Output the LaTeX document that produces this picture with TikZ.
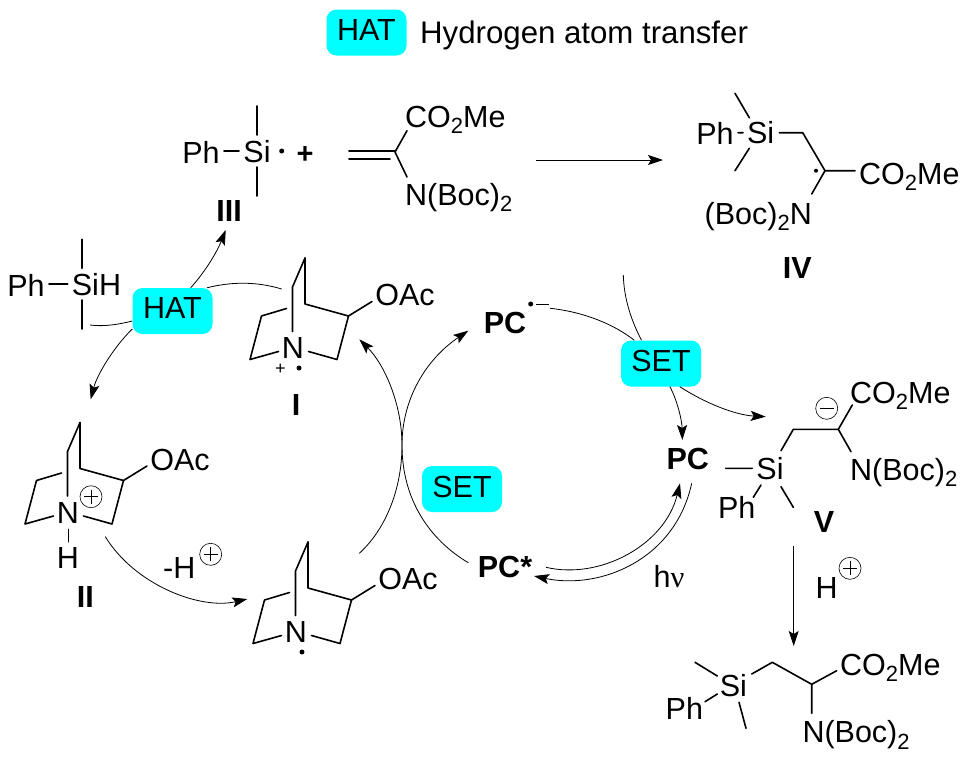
\documentclass[tikz,border=0pt]{standalone}
\usepackage{fontspec}
\setmainfont{Liberation Sans}
\newfontfamily\nufont{Liberation Serif}
\usetikzlibrary{arrows.meta}
\definecolor{tagcyan}{RGB}{0,255,255}
\newcommand\lowtwo{\raisebox{-0.22em}{\fontsize{22}{22}\selectfont 2}}
\newcommand\tagtext[1]{\raisebox{5pt}{#1}}
\tikzset{
  x=1pt,y=-1pt,
  bond/.style={line width=1.6pt,line cap=round,line join=round,black},
  arc/.style={line width=0.8pt,black},
  arr/.style={arc,-{Stealth[length=15pt,width=10pt,inset=3pt]}},
  txt/.style={inner sep=0pt,font=\fontsize{30.5}{30.5}\selectfont},
  boldtxt/.style={txt,font=\fontsize{30.5}{30.5}\selectfont\bfseries},
  tag/.style={txt,fill=tagcyan,rounded corners=10pt,minimum width=80pt,minimum height=46pt},
  dot/.style={circle,fill=black,inner sep=0pt,minimum size=5pt},
  chgplus/.style={circle,draw,line width=0.6pt,inner sep=0pt,minimum size=22pt,
    path picture={\draw[line width=0.6pt] ([xshift=-7pt]path picture bounding box.center) -- ([xshift=7pt]path picture bounding box.center)
      ([yshift=-7pt]path picture bounding box.center) -- ([yshift=7pt]path picture bounding box.center);}},
  chgminus/.style={circle,draw,line width=0.6pt,inner sep=0pt,minimum size=22pt,
    path picture={\draw[line width=0.6pt] ([xshift=-7pt]path picture bounding box.center) -- ([xshift=7pt]path picture bounding box.center);}},
  quin/.pic={
    \node[txt] (-N) at (0,0) {N};
    \node[txt] (-OAc) at (112,-53) {OAc};
    \path (12,-90) coordinate (-top) (-0.5,-61) coordinate (-up) (-0.5,-16.5) coordinate (-Nt)
      (12,-44) coordinate (-bh) (55.5,-32) coordinate (-cr) (79,-46.5) coordinate (-oa)
      (44,11.5) coordinate (-dr) (15.5,3.5) coordinate (-Nr)
      (-6.5,-39.5) coordinate (-gap) (-31.5,-32) coordinate (-cl)
      (-43,11.5) coordinate (-dl) (-14.5,3.5) coordinate (-Nl);
    \draw[bond] (-top) -- (-up) -- (-Nt);
    \draw[bond] (-top) -- (-bh) -- (-cr) -- (-dr) -- (-Nr);
    \draw[bond] (-cr) -- (-oa);
    \draw[bond] (-gap) -- (-cl) -- (-dl) -- (-Nl);
  }
}
\begin{document}
\begin{tikzpicture}
\useasboundingbox (0,0) rectangle (971,758);
% legend
\node[tag] (HATkey) at (366.5,32.5) {\tagtext{HAT}};
\node[txt,anchor=base west,font=\fontsize{31.2}{31.2}\selectfont] (HATtxt) at (420,43.5) {Hydrogen atom transfer};
% quinuclidines
\pic (QI) at (293,348) {quin};
\pic (QII) at (68,512.5) {quin};
\pic (QIII) at (296,632) {quin};
\node[txt,font=\fontsize{18}{18}\selectfont] (Iplus) at (280.5,369.5) {+};
\node[dot] (Idot) at (299,368) {};
\node[dot] (IIIdot) at (302,652) {};
\node[boldtxt] (lI) at (296,405) {I};
\node[txt] (IIH) at (68,557.5) {H};
\path (68.3,529.3) coordinate (IIa) (68.3,541.7) coordinate (IIb);
\draw[bond] (IIa) -- (IIb);
\node[chgplus] (IIc) at (91,496.7) {};
\node[boldtxt] (lII) at (85.3,596.7) {II};
\node[txt] (mH) at (179.3,567.7) {-H};
\node[chgplus] (mHc) at (210.7,554.3) {};
% PhMe2SiH
\node[txt] (aPh) at (26,285) {Ph};
\node[txt,anchor=west] (aSi) at (71.7,285) {SiH};
\path (49,284) coordinate (a1) (67.7,284) coordinate (a2) (82,239.3) coordinate (a3) (82,268.3) coordinate (a4) (82,300) coordinate (a5) (82,329) coordinate (a6);
\draw[bond] (a1) -- (a2) (a3) -- (a4) (a5) -- (a6);
% radical III
\node[txt] (bPh) at (201,152) {Ph};
\node[txt] (bSi) at (257,152) {Si};
\node[dot] (bdot) at (281.7,151) {};
\node[txt,font=\fontsize{29}{29}\selectfont\bfseries] (bplus) at (305,155) {+};
\node[boldtxt] (lIII) at (229,210.7) {III};
\path (224,150.7) coordinate (b1) (239,150.7) coordinate (b2) (257,106) coordinate (b3) (257,135) coordinate (b4) (257,167) coordinate (b5) (257,196) coordinate (b6);
\draw[bond] (b1) -- (b2) (b3) -- (b4) (b5) -- (b6);
% acrylate
\node[txt,anchor=base west] (cC) at (405,127) {CO\lowtwo Me};
\node[txt,anchor=base west] (cN) at (405,205) {N(Boc)\lowtwo};
\path (349,151) coordinate (c1) (395,151) coordinate (c2) (349,159) coordinate (c3) (390,159) coordinate (c4) (395,152) coordinate (c5) (407,130.7) coordinate (c6) (407,177) coordinate (c7);
\draw[bond] (c1) -- (c2) (c3) -- (c4) (c6) -- (c5) -- (c7);
% IV
\node[txt] (dPh) at (715,133) {Ph};
\node[txt] (dSi) at (760.7,133) {Si};
\node[txt,anchor=base west] (dC) at (859,184) {CO\lowtwo Me};
\node[txt,anchor=base east] (dN) at (812,224) {(Boc)\lowtwo N};
\node[dot,minimum size=4pt] (ddot) at (816,170.7) {};
\node[boldtxt] (lIV) at (797.3,268) {IV};
\path (738,132.7) coordinate (d1) (743,132.7) coordinate (d2) (735,93.3) coordinate (d3) (749.3,117.7) coordinate (d4)
  (749.3,148.3) coordinate (d5) (735,170.7) coordinate (d6) (779.3,132.7) coordinate (d7) (802.7,132.7) coordinate (d8)
  (825,170.7) coordinate (d9) (855,170.7) coordinate (d10) (811.7,194) coordinate (d11);
\draw[bond] (d1) -- (d2) (d3) -- (d4) (d5) -- (d6) (d7) -- (d8) -- (d9) -- (d10) (d9) -- (d11);
% V
\node[txt] (eSi) at (770,469) {Si};
\node[txt] (ePh) at (736.7,507.3) {Ph};
\node[txt,anchor=base west] (eC) at (850,403) {CO\lowtwo Me};
\node[txt,anchor=base west] (eN) at (850,480) {N(Boc)\lowtwo};
\node[chgminus] (ec) at (826.7,408.3) {};
\node[boldtxt] (lV) at (824,522) {V};
\path (725.7,468.3) coordinate (e1) (752.3,468.3) coordinate (e2) (761,485) coordinate (e3) (753.3,497.3) coordinate (e4)
  (781,486.7) coordinate (e5) (793.3,507.3) coordinate (e6) (781,450.7) coordinate (e7) (793.3,429.3) coordinate (e8)
  (838.3,429.3) coordinate (e9) (852.3,405) coordinate (e10) (851,451.7) coordinate (e11);
\draw[bond] (e1) -- (e2) (e3) -- (e4) (e5) -- (e6) (e7) -- (e8) -- (e9) -- (e10) (e9) -- (e11);
% product
\node[txt] (fSi) at (733.3,685.7) {Si};
\node[txt] (fPh) at (684.3,708.3) {Ph};
\node[txt,anchor=base west] (fC) at (840,675) {CO\lowtwo Me};
\node[txt,anchor=base west] (fN) at (802.3,742.5) {N(Boc)\lowtwo};
\path (695,662.3) coordinate (f1) (717.3,676) coordinate (f2) (705,701.7) coordinate (f3) (717.3,694) coordinate (f4)
  (739,702.3) coordinate (f5) (746,728.3) coordinate (f6) (751.7,674) coordinate (f7) (772.3,662.3) coordinate (f8)
  (811.7,684.3) coordinate (f9) (836.7,670.7) coordinate (f10) (811.7,713.3) coordinate (f11);
\draw[bond] (f1) -- (f2) (f3) -- (f4) (f5) -- (f6) (f7) -- (f8) -- (f9) -- (f10) (f9) -- (f11);
% PC species
\node[boldtxt] (PC) at (687.7,459) {PC};
\node[boldtxt] (PCr) at (505,323.3) {PC};
\node[dot] (PCrdot) at (530.7,304) {};
\path (536,304) coordinate (g1) (549,304) coordinate (g2);
\draw[line width=1pt] (g1) -- (g2);
\node[boldtxt] (PCs) at (505,566.7) {PC*};
\node[txt] (hnu) at (669,577) {h{\nufont ν}};
\node[txt] (Hp) at (826.7,588) {H};
\node[chgplus] (Hpc) at (850,568.3) {};
% tags
\node[tag] (HATm) at (172.5,311) {\tagtext{HAT}};
\node[tag] (SETa) at (661,363.5) {\tagtext{SET}};
\node[tag] (SETb) at (462,489) {\tagtext{SET}};
% arrows
\path (536,160) coordinate (m1) (663,160) coordinate (m2);
\draw[arr] (m1) -- (m2);
\path (793.7,546) coordinate (v1) (793.7,646) coordinate (v2);
\draw[arr] (v1) -- (v2);
\path (90,325) coordinate (h1) (90.7,399.3) coordinate (h2) (225.7,230) coordinate (h3) (281.7,289) coordinate (h4);
\draw[arc] (h1) .. controls (105,327) and (120,324) .. (HATm.194);
\draw[arr] (HATm.204) .. controls (113,348) and (97,375) .. (h2);
\draw[arr] (HATm.52) .. controls (205,272) and (217,252) .. (h3);
\draw[arc] (h4) .. controls (255,281) and (230,282) .. (HATm.34);
\path (105.3,536.7) coordinate (k1) (247.3,599) coordinate (k2);
\draw[arr] (k1) .. controls (135,585) and (200,610) .. (k2);
\path (359.3,553.3) coordinate (n1) (402,445) coordinate (n2) (359.3,339.3) coordinate (n3);
\draw[arr] (n1) .. controls (385,530) and (402,490) .. (n2) .. controls (402,405) and (385,365) .. (n3);
\path (468.3,562.7) coordinate (p1) (402,445) coordinate (p2) (468.3,330.7) coordinate (p3);
\draw[arr] (p1) .. controls (430,540) and (402,500) .. (p2) .. controls (402,400) and (425,360) .. (p3);
\path (550,308.3) coordinate (s1) (623.3,275) coordinate (s2) (682.3,440) coordinate (s3) (765.7,416.7) coordinate (s4);
\draw[arc] (s1) .. controls (585,312) and (615,325) .. (SETa.139);
\draw[arc] (s2) .. controls (624,300) and (632,322) .. (SETa.130);
\draw[arr] (SETa.291) .. controls (677,400) and (682,420) .. (s3);
\draw[arr] (SETa.309) .. controls (705,403) and (735,415) .. (s4);
\path (546,567.3) coordinate (t1) (680,483.3) coordinate (t2) (691.7,483.3) coordinate (t3) (534,576) coordinate (t4);
\draw[arr] (t1) .. controls (600,580) and (665,545) .. (t2);
\draw[arr] (t3) .. controls (675,560) and (600,590) .. (t4);
\end{tikzpicture}
\end{document}
